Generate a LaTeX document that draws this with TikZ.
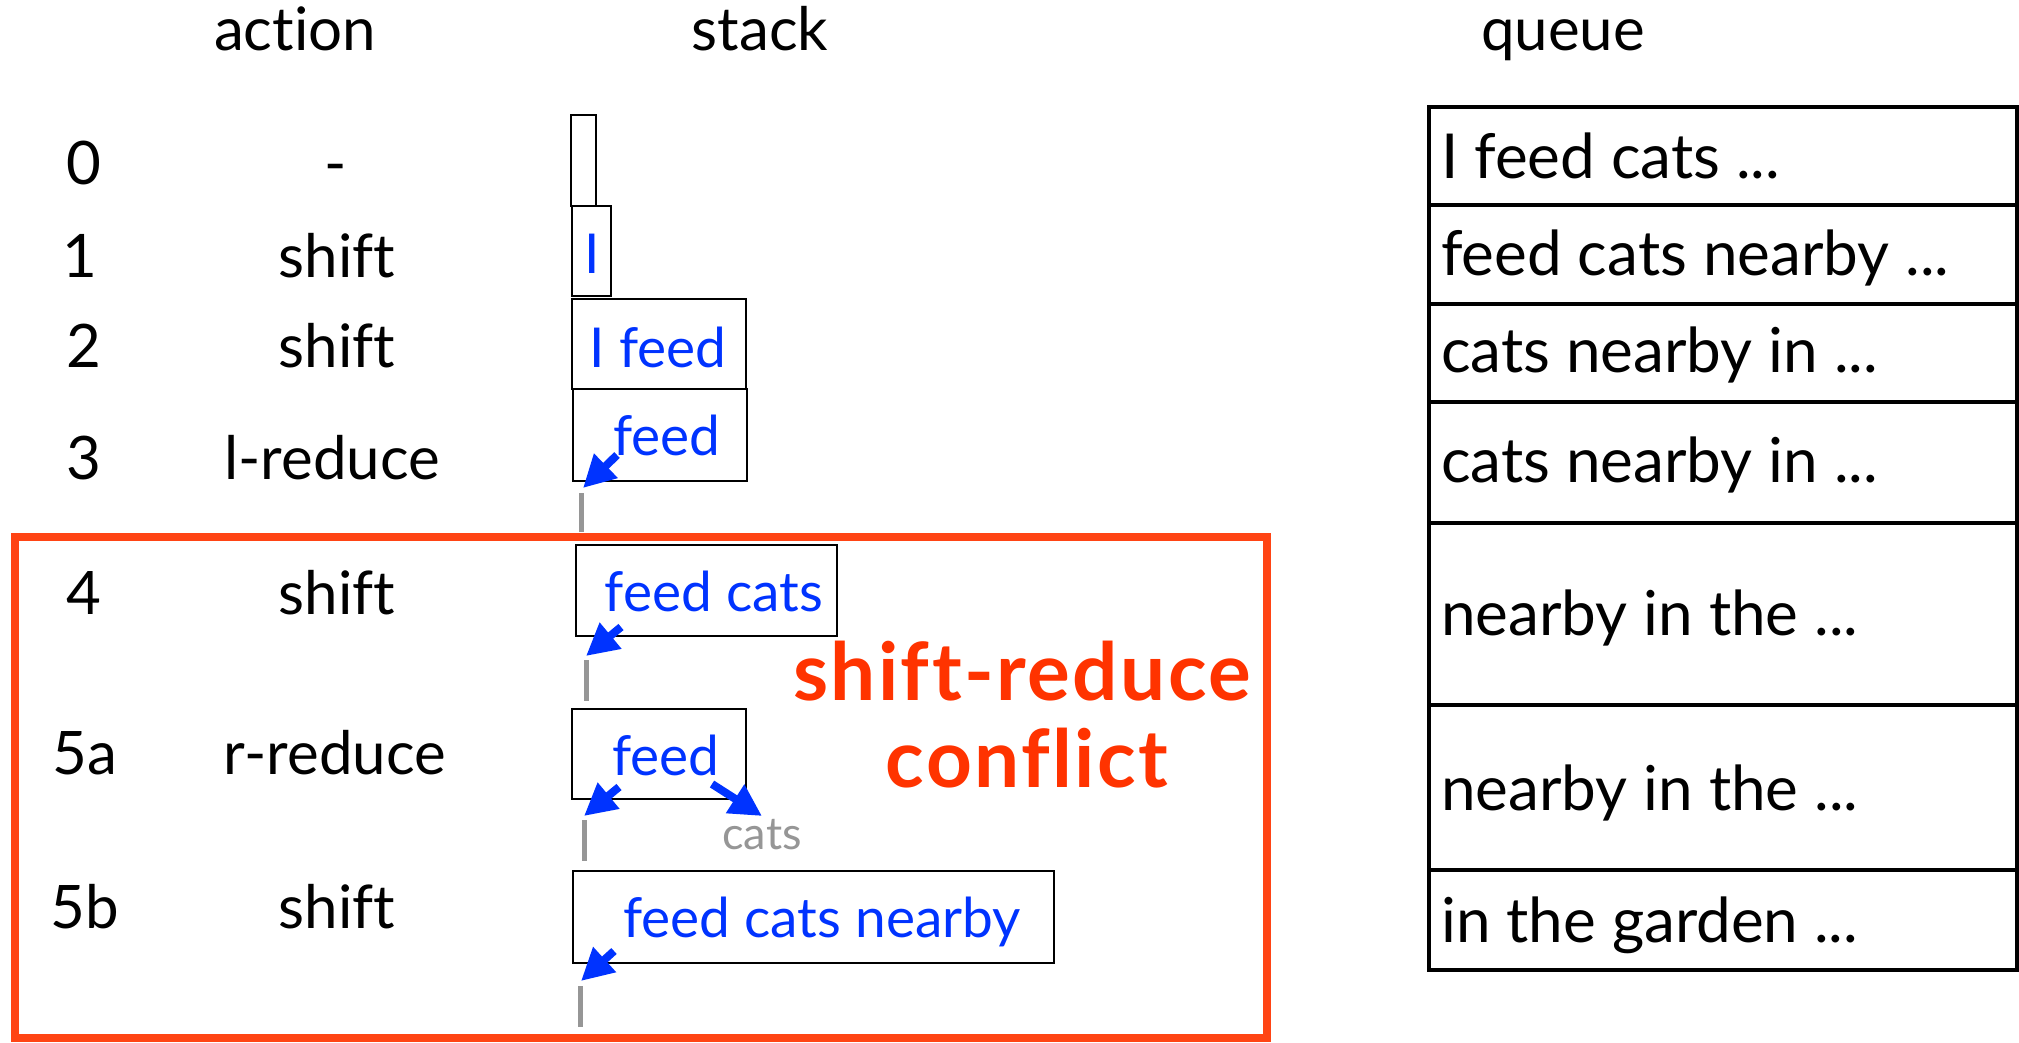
\documentclass[tikz,border=0pt]{standalone}
\usepackage{fontspec}
\setmainfont{Lato}[Ligatures=NoCommon]
\usetikzlibrary{arrows.meta}
\definecolor{stackblue}{RGB}{0,51,255}
\definecolor{alertred}{RGB}{255,51,0}
\definecolor{framered}{RGB}{255,68,20}
\definecolor{tickgray}{RGB}{150,150,150}

\begin{document}
\begin{tikzpicture}[x=1pt,y=-1pt,
  lbl/.style={inner sep=0pt, anchor=base, font=\fontsize{60}{66}\selectfont},
  qtxt/.style={inner sep=0pt, anchor=base west, font=\fontsize{62}{68}\selectfont},
  stxt/.style={inner sep=0pt, anchor=base, text=stackblue, font=\fontsize{55}{60}\selectfont},
  sbox/.style={draw, line width=2.5pt, inner sep=0pt},
  qbox/.style={draw, line width=4pt, inner sep=0pt, anchor=north west, minimum width=588pt},
  push/.style={line width=8pt, stackblue, -{Triangle[length=32pt,width=32pt]}},
  stub/.style={line width=5pt, tickgray},
  conf/.style={inner sep=0pt, anchor=base, text=alertred,
    font=\fontsize{80}{87}\selectfont\bfseries\addfontfeature{LetterSpace=3}},
]
\useasboundingbox (0,0) rectangle (2019,1042);
\fill[white] (0,0) rectangle (2019,1042);

% column headers
\node[lbl] (hAction) at (295,50) {action};
\node[lbl] (hStack)  at (760,50) {stack};
\node[lbl] (hQueue)  at (1563,50) {queue};

% step numbers
\node[lbl] (n0)  at (84,184) {0};
\node[lbl] (n1)  at (80,277) {1};
\node[lbl] (n2)  at (84,367) {2};
\node[lbl] (n3)  at (84,479) {3};
\node[lbl] (n4)  at (84,614) {4};
\node[lbl] (n5a) at (85,774) {5a};
\node[lbl] (n5b) at (85,928) {5b};

% actions
\node[lbl] (a0)  at (336,184) {-};
\node[lbl] (a1)  at (337,277) {shift};
\node[lbl] (a2)  at (337,367) {shift};
\node[lbl] (a3)  at (332,479) {l-reduce};
\node[lbl] (a4)  at (337,614) {shift};
\node[lbl] (a5a) at (335,774) {r-reduce};
\node[lbl] (a5b) at (337,928) {shift};

% stack boxes
\node[sbox, minimum width=25pt,  minimum height=91pt] (sb0)  at (583.5,160.5) {};
\node[sbox, minimum width=39pt,  minimum height=90pt] (sb1)  at (591.5,251) {};
\node[sbox, minimum width=174pt, minimum height=90pt] (sb2)  at (659,344) {};
\node[sbox, minimum width=174pt, minimum height=92pt] (sb3)  at (660,435) {};
\node[sbox, minimum width=261pt, minimum height=91pt] (sb4)  at (706.5,590.5) {};
\node[sbox, minimum width=174pt, minimum height=90pt] (sb5a) at (659,754) {};
\node[sbox, minimum width=481pt, minimum height=92pt] (sb5b) at (813.5,917) {};

% stack contents
\node[stxt] (s1)  at (592,273) {I};
\node[stxt] (s2)  at (658,367) {I feed};
\node[stxt] (s3)  at (667,455) {feed};
\node[stxt] (s4)  at (714,611) {feed cats};
\node[stxt] (s5a) at (666,775) {feed};
\node[stxt] (s5b) at (822,937) {feed cats nearby};
\node[inner sep=0pt, anchor=base, text=tickgray, font=\fontsize{45}{50}\selectfont] (cats) at (762,849) {cats};

% dependency arrows and stub lines
\coordinate (t3) at (617,455);  \coordinate (h3) at (583,488);
\coordinate (t4) at (621,627);  \coordinate (h4) at (586,656);
\coordinate (t5l) at (619,787); \coordinate (h5l) at (584,816);
\coordinate (t5r) at (712,784); \coordinate (h5r) at (762,816);
\coordinate (t5b) at (614,951); \coordinate (h5b) at (581,981);

\coordinate (g3a) at (581,493);  \coordinate (g3b) at (581,532);
\coordinate (g4a) at (586,660);  \coordinate (g4b) at (586,701);
\coordinate (g5a) at (584,820);  \coordinate (g5b) at (584,861);
\coordinate (g6a) at (580,986);  \coordinate (g6b) at (580,1027);

\draw[stub] (g3a) -- (g3b);
\draw[stub] (g4a) -- (g4b);
\draw[stub] (g5a) -- (g5b);
\draw[stub] (g6a) -- (g6b);

\draw[push] (t3) -- (h3);
\draw[push] (t4) -- (h4);
\draw[push] (t5l) -- (h5l);
\draw[push] (t5r) -- (h5r);
\draw[push] (t5b) -- (h5b);

% queue boxes
\node[qbox, minimum height=98pt]  (q1) at (1427,105) {};
\node[qbox, minimum height=99pt]  (q2) at (1427,203) {};
\node[qbox, minimum height=98pt]  (q3) at (1427,302) {};
\node[qbox, minimum height=121pt] (q4) at (1427,400) {};
\node[qbox, minimum height=182pt] (q5) at (1427,521) {};
\node[qbox, minimum height=165pt] (q6) at (1427,703) {};
\node[qbox, minimum height=100pt] (q7) at (1427,868) {};

\node[qtxt] (qt1) at (1441,178) {I feed cats ...};
\node[qtxt] (qt2) at (1441,275) {feed cats nearby ...};
\node[qtxt] (qt3) at (1441,372) {cats nearby in ...};
\node[qtxt] (qt4) at (1441,482) {cats nearby in ...};
\node[qtxt] (qt5) at (1441,635) {nearby in the ...};
\node[qtxt] (qt6) at (1441,810) {nearby in the ...};
\node[qtxt] (qt7) at (1441,942) {in the garden ...};

% conflict region
\node[draw=framered, line width=8pt, inner sep=0pt,
      minimum width=1252pt, minimum height=501pt] (zone) at (641,787.5) {};
\node[conf] (c1) at (1022,700) {shift-reduce};
\node[conf] (c2) at (1027,787) {conflict};
\end{tikzpicture}
\end{document}
